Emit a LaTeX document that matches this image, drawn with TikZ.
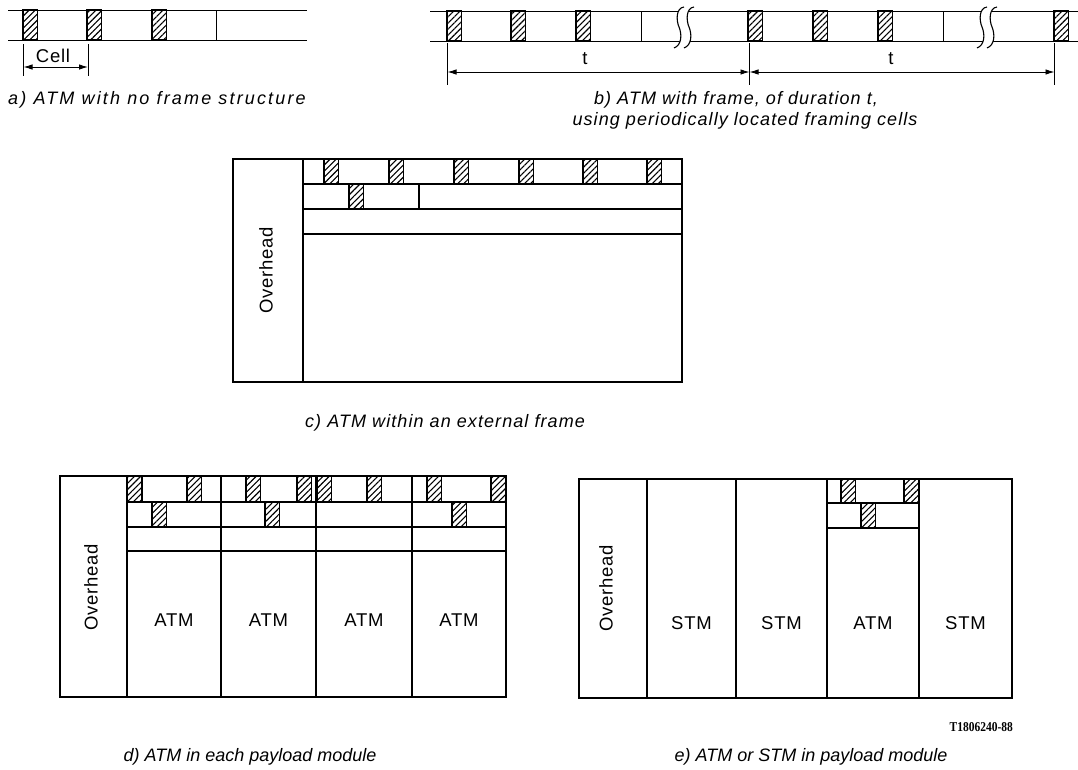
\documentclass[tikz,border=0pt]{standalone}
\usepackage{fontspec}
\setmainfont{Liberation Sans}
\newfontfamily\capfont[LetterSpace=6]{Liberation Sans}
\newfontfamily\capafont[LetterSpace=12]{Liberation Sans}
\newfontfamily\plainfont[LetterSpace=4]{Liberation Sans}
\newfontfamily\serialfont{Liberation Serif}
\usetikzlibrary{patterns.meta,arrows.meta}
\tikzset{
  boxline/.style={draw,line width=1.2pt},
  thinline/.style={draw,line width=1.0pt},
  hatch/.style={draw,line width=1.2pt,pattern={Lines[angle=45,distance=4.3pt,line width=1.1pt]}},
  captxt/.style={font=\capfont\itshape\fontsize{18}{21}\selectfont,inner sep=0pt},
  captxta/.style={font=\capafont\itshape\fontsize{18}{21}\selectfont,inner sep=0pt},
  captxtb/.style={font=\itshape\fontsize{18}{21}\selectfont,inner sep=0pt},
  lbl/.style={font=\plainfont\fontsize{18.5}{21}\selectfont,inner sep=0pt},
  dimline/.style={line width=0.9pt,{Latex[length=9pt,width=5.5pt]}-{Latex[length=9pt,width=5.5pt]}},
  tickline/.style={line width=0.9pt},
  brk/.style={line width=1.1pt},
}
\newcommand\hc[3]{\path[hatch] (#1,#2) rectangle (#1+14.5,#3);}
\newcommand\brkmark[1]{%
  \begin{scope}[xshift=#1pt]
    \fill[white] (8,7) .. controls (0,8) and (0,20) .. (3,27) .. controls (6,34) and (6,45) .. (-2,48)
      -- (8,48) .. controls (16,45) and (16,34) .. (13,27) .. controls (10,20) and (10,8) .. (18,7) -- cycle;
    \draw[brk] (8,7) .. controls (0,8) and (0,20) .. (3,27) .. controls (6,34) and (6,45) .. (-2,48);
    \draw[brk] (18,7) .. controls (10,8) and (10,20) .. (13,27) .. controls (16,34) and (16,45) .. (8,48);
  \end{scope}}
\begin{document}
\begin{tikzpicture}[x=1pt,y=-1pt]
\useasboundingbox (0,0) rectangle (1078,769);

% ---------- (a) ----------
\draw[thinline] (8,10) -- (307,10) (8,40) -- (307,40);
\hc{23}{10}{40}\hc{87}{10}{40}\hc{152}{10}{40}
\draw[thinline] (216,10) -- (216,40);
\coordinate (aL) at (23.5,67); \coordinate (aR) at (88,67);
\draw[tickline] (23.5,44) -- (23.5,76) (88,44) -- (88,76);
\draw[dimline] (aL) -- (aR);
\node[lbl] (cell) at (53,56) {Cell};
\node[captxta,anchor=west] (capa) at (8,100) {a) ATM with no frame structure};

% ---------- (b) ----------
\draw[thinline] (430,11) -- (1078,11) (430,41) -- (1078,41);
\brkmark{676}
\brkmark{979}
\hc{447}{11}{41}\hc{511}{11}{41}\hc{576}{11}{41}
\hc{748}{11}{41}\hc{813}{11}{41}\hc{878}{11}{41}
\hc{1054}{11}{41}
\draw[thinline] (641,11) -- (641,41) (943,11) -- (943,41);
\coordinate (b1) at (447.5,72); \coordinate (b2) at (749.5,72); \coordinate (b3) at (1054.5,72);
\draw[tickline] (447.5,43) -- (447.5,85) (749.5,43) -- (749.5,85) (1054.5,43) -- (1054.5,85);
\draw[dimline] (b1) -- (b2);
\draw[dimline] (b2) -- (b3);
\node[lbl] (t1) at (585,59) {t};
\node[lbl] (t2) at (891,59) {t};
\node[captxt] (capb1) at (736,100) {b) ATM with frame, of duration t,};
\node[captxt] (capb2) at (745,121) {using periodically located framing cells};

% ---------- (c) ----------
\draw[boxline] (233,159) rectangle (682,382);
\draw[boxline] (303,159) -- (303,382);
\draw[boxline] (303,184) -- (682,184) (303,209) -- (682,209) (303,234) -- (682,234);
\hc{324}{159}{184}\hc{389}{159}{184}\hc{454}{159}{184}
\hc{519}{159}{184}\hc{583}{159}{184}\hc{647}{159}{184}
\hc{349}{184}{209}
\draw[boxline] (419,184) -- (419,209);
\node[lbl,rotate=90] (ohc) at (266,270) {Overhead};
\node[captxt] (capc) at (445,423) {c) ATM within an external frame};

% ---------- (d) ----------
\draw[boxline] (60,476) rectangle (506,697);
\draw[boxline] (127,476) -- (127,697) (221,476) -- (221,697) (316,476) -- (316,697) (412,476) -- (412,697);
\draw[boxline] (127,502) -- (506,502) (127,527) -- (506,527) (127,551) -- (506,551);
\hc{127.5}{476}{502}\hc{187}{476}{502}\hc{246}{476}{502}\hc{297}{476}{502}
\hc{317}{476}{502}\hc{367}{476}{502}\hc{427}{476}{502}\hc{491}{476}{502}
\hc{152}{502}{527}\hc{265}{502}{527}\hc{452}{502}{527}
\node[lbl,rotate=90] (ohd) at (91,587) {Overhead};
\node[lbl] (d1) at (174,620) {ATM};
\node[lbl] (d2) at (268.5,620) {ATM};
\node[lbl] (d3) at (364,620) {ATM};
\node[lbl] (d4) at (459,620) {ATM};
\node[captxtb] (capd) at (250,757) {d) ATM in each payload module};

% ---------- (e) ----------
\draw[boxline] (579,479) rectangle (1012,698);
\draw[boxline] (647,479) -- (647,698) (736,479) -- (736,698) (827,479) -- (827,698) (919,479) -- (919,698);
\draw[boxline] (827,503) -- (919,503) (827,528) -- (919,528);
\hc{841}{479}{503}\hc{904}{479}{503}
\hc{861}{503}{528}
\node[lbl,rotate=90] (ohe) at (606,588) {Overhead};
\node[lbl] (e1) at (691.5,623) {STM};
\node[lbl] (e2) at (781.5,623) {STM};
\node[lbl] (e3) at (873,623) {ATM};
\node[lbl] (e4) at (965.5,623) {STM};
\node[font=\serialfont\bfseries\fontsize{13.5}{15}\selectfont,anchor=east,inner sep=0pt,xscale=0.85] (ser) at (1013,727) {T1806240-88};
\node[captxtb] (cape) at (811,757) {e) ATM or STM in payload module};
\end{tikzpicture}
\end{document}
